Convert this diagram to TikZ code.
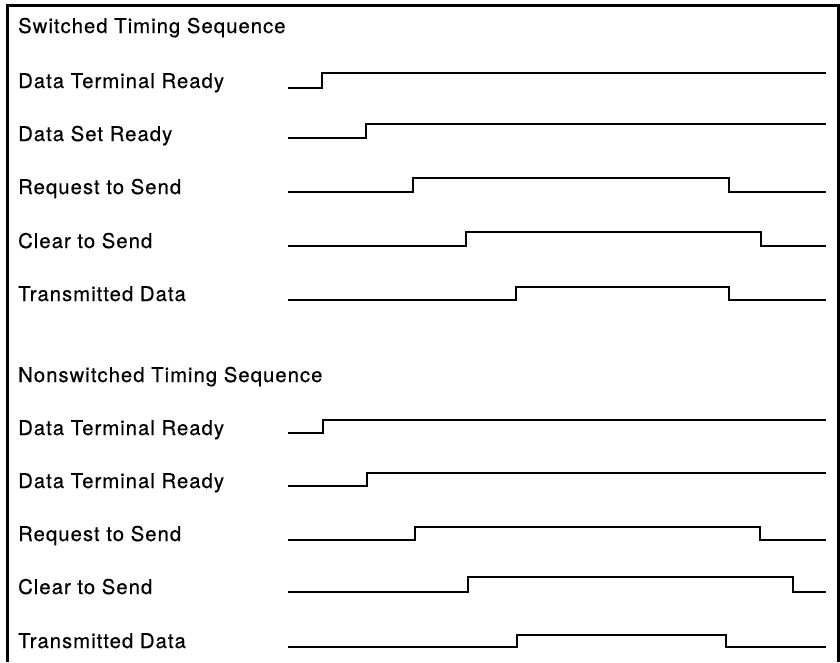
\documentclass[tikz,border=0pt]{standalone}
\usepackage{fontspec}
\newfontfamily\sigfont[LetterSpace=5,FakeBold=0.5]{TeX Gyre Heros}
\tikzset{
  lbl/.style={anchor=base west, inner sep=0pt, font=\sigfont\fontsize{20.3}{23}\selectfont},
  sig/.style={line width=2.6pt, line join=miter},
}
\begin{document}
\begin{tikzpicture}[x=1pt, y=-1pt]
\useasboundingbox (0,0) rectangle (840,662);

% frame, open at the bottom
\draw[line width=3pt] (7,662) -- (7,5) -- (838,5) -- (838,662);

\node[lbl] (swt) at (18,33) {Switched Timing Sequence};
\node[lbl] (nst) at (18,382) {Nonswitched Timing Sequence};

\foreach \y/\t [count=\i] in {88/Data Terminal Ready, 141/Data Set Ready,
    194/Request to Send, 248/Clear to Send, 301/Transmitted Data}
  \node[lbl] (sw\i) at (18,\y) {\t};

\foreach \y/\t [count=\i] in {435/Data Terminal Ready, 488/Data Terminal Ready,
    541/Request to Send, 594/Clear to Send, 648/Transmitted Data}
  \node[lbl] (ns\i) at (18,\y) {\t};

% steps: low/high/rise
\foreach \lo/\hi/\r in {88/73/322, 138/124/366, 433/420/323, 486/473/367}
  \draw[sig] (288,\lo) -- (\r,\lo) -- (\r,\hi) -- (826,\hi);

% pulses: low/high/rise/fall
\foreach \lo/\hi/\r/\f in {192/178/413/729, 246/232/466/761, 300/287/516/729,
    540/527/415/760, 592/577/468/793, 647/635/517/726}
  \draw[sig] (288,\lo) -- (\r,\lo) -- (\r,\hi) -- (\f,\hi) -- (\f,\lo) -- (826,\lo);
\end{tikzpicture}
\end{document}
